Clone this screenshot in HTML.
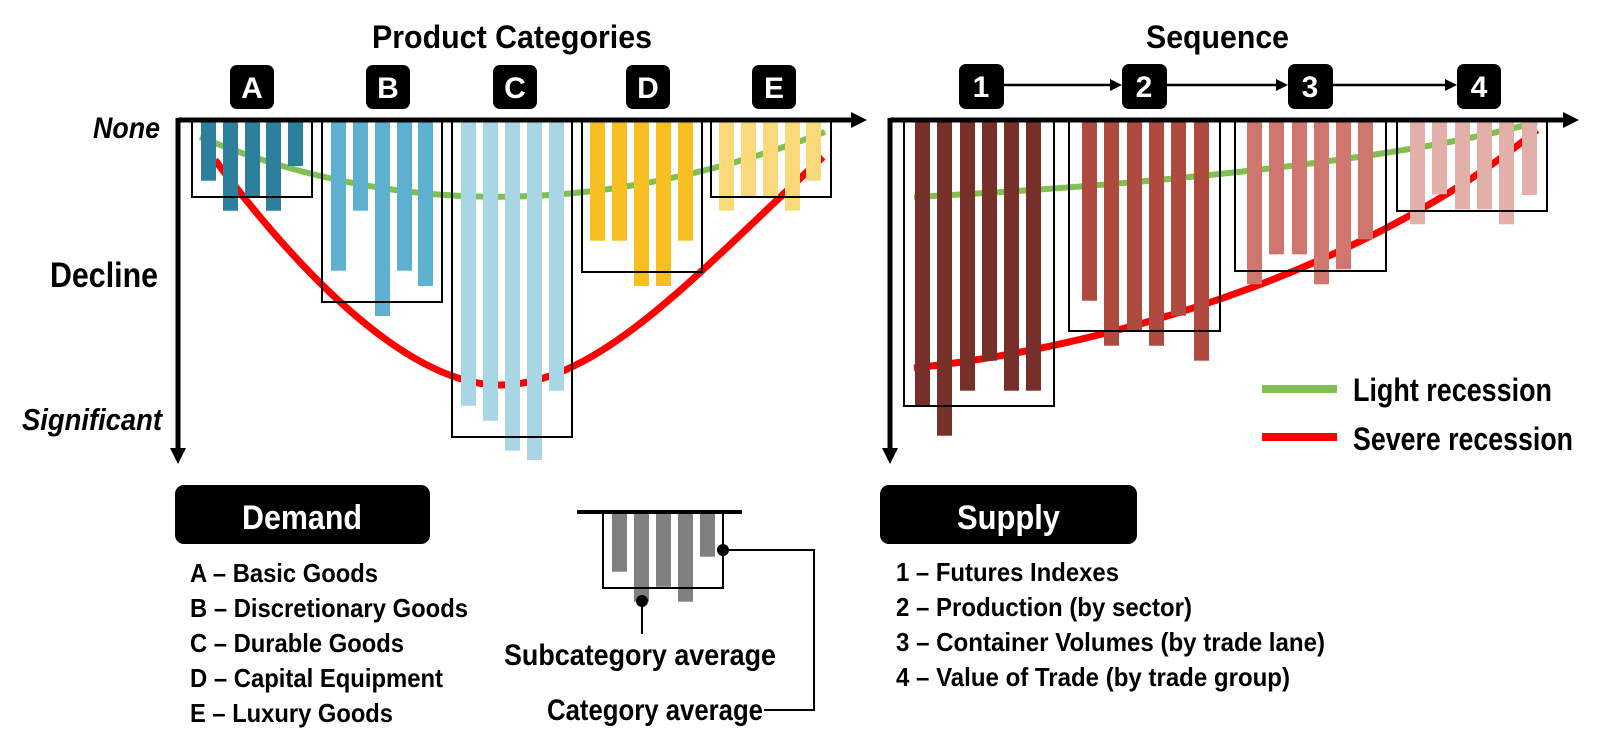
<!DOCTYPE html>
<html><head><meta charset="utf-8"><style>
html,body{margin:0;padding:0;background:#fff;}
svg{display:block;}
text{font-family:"Liberation Sans",Arial,sans-serif;font-weight:bold;}
</style></head><body>
<svg width="1599" height="750" viewBox="0 0 1599 750" xmlns="http://www.w3.org/2000/svg">
<text x="372" y="48" font-size="32" textLength="280" lengthAdjust="spacingAndGlyphs">Product Categories</text>
<text x="1146" y="48" font-size="32" textLength="143" lengthAdjust="spacingAndGlyphs">Sequence</text>
<text x="93" y="138" font-size="30" font-style="italic" textLength="67" lengthAdjust="spacingAndGlyphs">None</text>
<text x="50" y="287" font-size="35" textLength="108" lengthAdjust="spacingAndGlyphs">Decline</text>
<text x="22" y="430" font-size="31" font-style="italic" textLength="140" lengthAdjust="spacingAndGlyphs">Significant</text>

<path d="M200,137 Q495,259 825,132" fill="none" stroke="#80c050" stroke-width="6"/>
<path d="M215,160 C320,300 420,385 500,385 C600,385 700,270 823,157" fill="none" stroke="#ff0000" stroke-width="7"/>

<g fill="#2e7f9b">
<rect x="201" y="122" width="15" height="58.7"/><rect x="223" y="122" width="15" height="88.7"/><rect x="245" y="122" width="15" height="74"/><rect x="266" y="122" width="15" height="88.7"/><rect x="288" y="122" width="15" height="44"/>
</g>
<g fill="#5db0cf">
<rect x="331" y="122" width="15" height="148.7"/><rect x="353" y="122" width="15" height="88.7"/><rect x="375" y="122" width="15" height="194"/><rect x="397" y="122" width="15" height="148.7"/><rect x="418" y="122" width="15" height="164"/>
</g>
<g fill="#a9d6e5">
<rect x="461" y="122" width="15" height="283.7"/><rect x="483" y="122" width="15" height="298.7"/><rect x="505" y="122" width="15" height="328.7"/><rect x="527" y="122" width="15" height="338"/><rect x="549" y="122" width="15" height="268.7"/>
</g>
<g fill="#f7bf22">
<rect x="590" y="122" width="15" height="118.7"/><rect x="612" y="122" width="15" height="118.7"/><rect x="634" y="122" width="15" height="164"/><rect x="656" y="122" width="15" height="164"/><rect x="678" y="122" width="15" height="118.7"/>
</g>
<g fill="#fad97a">
<rect x="719" y="122" width="15" height="88.7"/><rect x="741" y="122" width="15" height="74"/><rect x="763" y="122" width="15" height="74"/><rect x="785" y="122" width="15" height="88.7"/><rect x="806" y="122" width="15" height="58.7"/>
</g>
<g fill="none" stroke="#000" stroke-width="2">
<rect x="192" y="121" width="120" height="76"/>
<rect x="322" y="121" width="120" height="181"/>
<rect x="452" y="121" width="120" height="316"/>
<rect x="582" y="121" width="120" height="151"/>
<rect x="711" y="121" width="120" height="76"/>
</g>

<line x1="178" y1="120" x2="853" y2="120" stroke="#000" stroke-width="5"/>
<polygon points="867,120 851,112 851,128" fill="#000"/>
<line x1="178" y1="118" x2="178" y2="450" stroke="#000" stroke-width="5"/>
<polygon points="178,464 170,448 186,448" fill="#000"/>

<g fill="#000">
<rect x="230" y="65" width="44" height="44" rx="7"/>
<rect x="366" y="65" width="44" height="44" rx="7"/>
<rect x="493" y="65" width="44" height="44" rx="7"/>
<rect x="626" y="65" width="44" height="44" rx="7"/>
<rect x="752" y="65" width="44" height="44" rx="7"/>
</g>
<g fill="#fff" font-size="30" text-anchor="middle">
<text x="252" y="98">A</text><text x="388" y="98">B</text><text x="515" y="98">C</text><text x="648" y="98">D</text><text x="774" y="98">E</text>
</g>

<path d="M914,197 C1150,185 1400,160 1537,122" fill="none" stroke="#80c050" stroke-width="6"/>
<path d="M914,368 C1130,345 1380,260 1537,130" fill="none" stroke="#ff0000" stroke-width="7"/>

<g fill="#772f2a">
<rect x="915" y="122" width="15" height="283.7"/><rect x="937" y="122" width="15" height="313.7"/><rect x="960" y="122" width="15" height="268.7"/><rect x="982" y="122" width="15" height="238.7"/><rect x="1004" y="122" width="15" height="268.7"/><rect x="1026" y="122" width="15" height="268.7"/>
</g>
<g fill="#ae4a3e">
<rect x="1082" y="122" width="15" height="178.7"/><rect x="1104" y="122" width="15" height="223.7"/><rect x="1127" y="122" width="15" height="208.7"/><rect x="1149" y="122" width="15" height="223.7"/><rect x="1171" y="122" width="15" height="193.7"/><rect x="1194" y="122" width="15" height="238.7"/>
</g>
<g fill="#cf776f">
<rect x="1247" y="122" width="15" height="162.3"/><rect x="1269" y="122" width="15" height="132.3"/><rect x="1292" y="122" width="15" height="132.3"/><rect x="1314" y="122" width="15" height="162.3"/><rect x="1336" y="122" width="15" height="147.3"/><rect x="1358" y="122" width="15" height="117.3"/>
</g>
<g fill="#e2b0a9">
<rect x="1410" y="122" width="15" height="102.3"/><rect x="1432" y="122" width="15" height="72.3"/><rect x="1455" y="122" width="15" height="87.3"/><rect x="1477" y="122" width="15" height="87.3"/><rect x="1499" y="122" width="15" height="102.3"/><rect x="1522" y="122" width="15" height="73"/>
</g>
<g fill="none" stroke="#000" stroke-width="2">
<rect x="904" y="121" width="150" height="285"/>
<rect x="1069" y="121" width="151" height="210"/>
<rect x="1235" y="121" width="151" height="150"/>
<rect x="1397" y="121" width="150" height="90"/>
</g>

<line x1="890" y1="120" x2="1565" y2="120" stroke="#000" stroke-width="5"/>
<polygon points="1579,120 1563,112 1563,128" fill="#000"/>
<line x1="890" y1="118" x2="890" y2="450" stroke="#000" stroke-width="5"/>
<polygon points="890,464 882,448 898,448" fill="#000"/>

<g fill="#000">
<rect x="959" y="64" width="45" height="45" rx="7"/>
<rect x="1122" y="64" width="45" height="45" rx="7"/>
<rect x="1288" y="64" width="45" height="45" rx="7"/>
<rect x="1457" y="64" width="44" height="45" rx="7"/>
</g>
<g stroke="#000" stroke-width="2.5">
<line x1="1004" y1="85" x2="1112" y2="85"/><line x1="1167" y1="85" x2="1278" y2="85"/><line x1="1333" y1="85" x2="1447" y2="85"/>
</g>
<g fill="#000">
<polygon points="1122,85 1110,79 1110,91"/><polygon points="1288,85 1276,79 1276,91"/><polygon points="1457,85 1445,79 1445,91"/>
</g>
<g fill="#fff" font-size="30" text-anchor="middle">
<text x="981" y="97">1</text><text x="1144" y="97">2</text><text x="1310" y="97">3</text><text x="1479" y="97">4</text>
</g>

<line x1="1262" y1="389" x2="1337" y2="389" stroke="#80c050" stroke-width="8"/>
<line x1="1262" y1="437" x2="1337" y2="437" stroke="#ff0000" stroke-width="8"/>
<text x="1353" y="401" font-size="32" textLength="199" lengthAdjust="spacingAndGlyphs">Light recession</text>
<text x="1353" y="450" font-size="32" textLength="220" lengthAdjust="spacingAndGlyphs">Severe recession</text>

<rect x="175" y="485" width="255" height="59" rx="9" fill="#000"/>
<text x="242" y="529" font-size="34" fill="#fff" textLength="120" lengthAdjust="spacingAndGlyphs">Demand</text>
<g font-size="26">
<text x="190" y="582" textLength="188" lengthAdjust="spacingAndGlyphs">A – Basic Goods</text>
<text x="190" y="617" textLength="278" lengthAdjust="spacingAndGlyphs">B – Discretionary Goods</text>
<text x="190" y="652" textLength="214" lengthAdjust="spacingAndGlyphs">C – Durable Goods</text>
<text x="190" y="687" textLength="253" lengthAdjust="spacingAndGlyphs">D – Capital Equipment</text>
<text x="190" y="722" textLength="203" lengthAdjust="spacingAndGlyphs">E – Luxury Goods</text>
</g>

<g fill="#808080">
<rect x="612" y="512" width="15" height="59.7"/><rect x="634" y="512" width="15" height="89.7"/><rect x="656" y="512" width="15" height="74.7"/><rect x="678" y="512" width="15" height="89.7"/><rect x="700" y="512" width="15" height="44.7"/>
</g>
<rect x="603" y="512" width="120" height="76" fill="none" stroke="#000" stroke-width="2"/>
<line x1="577" y1="512" x2="742" y2="512" stroke="#000" stroke-width="4"/>
<circle cx="642" cy="601" r="6" fill="#000"/>
<line x1="642" y1="601" x2="642" y2="634" stroke="#000" stroke-width="2"/>
<circle cx="723" cy="550" r="6" fill="#000"/>
<polyline points="723,550 814,550 814,710 764,710" fill="none" stroke="#000" stroke-width="2"/>
<text x="504" y="665" font-size="30" textLength="272" lengthAdjust="spacingAndGlyphs">Subcategory average</text>
<text x="547" y="720" font-size="30" textLength="216" lengthAdjust="spacingAndGlyphs">Category average</text>

<rect x="880" y="485" width="257" height="59" rx="9" fill="#000"/>
<text x="957" y="529" font-size="34" fill="#fff" textLength="103" lengthAdjust="spacingAndGlyphs">Supply</text>
<g font-size="26">
<text x="896" y="581" textLength="223" lengthAdjust="spacingAndGlyphs">1 – Futures Indexes</text>
<text x="896" y="616" textLength="296" lengthAdjust="spacingAndGlyphs">2 – Production (by sector)</text>
<text x="896" y="651" textLength="429" lengthAdjust="spacingAndGlyphs">3 – Container Volumes (by trade lane)</text>
<text x="896" y="686" textLength="394" lengthAdjust="spacingAndGlyphs">4 – Value of Trade (by trade group)</text>
</g>
</svg>
</body></html>
